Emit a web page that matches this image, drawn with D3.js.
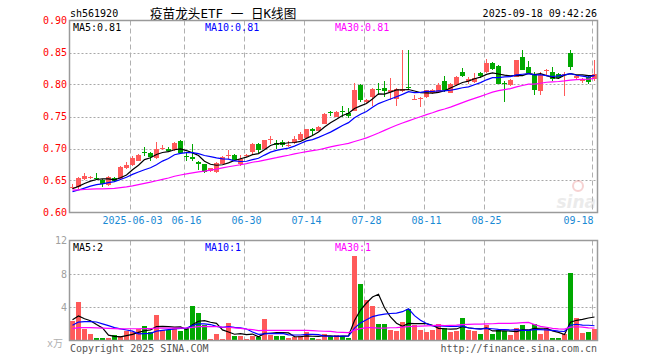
<!DOCTYPE html>
<html>
<head>
<meta charset="utf-8">
<script src="https://cdn.jsdelivr.net/npm/d3@7"></script>
<style>
  body { margin: 0; background: #fff; }
  svg { display: block; }
  text { font-family: "DejaVu Sans Mono", "Liberation Mono", monospace; font-size: 10px; }
</style>
</head>
<body>
<svg id="chart" width="660" height="360"></svg>
<script>
// trading days shown on the chart
const dates = [
  "2025-05-19","2025-05-20","2025-05-21","2025-05-22","2025-05-23",
  "2025-05-26","2025-05-27","2025-05-28","2025-05-29","2025-05-30",
  "2025-06-03","2025-06-04","2025-06-05","2025-06-06",
  "2025-06-09","2025-06-10","2025-06-11","2025-06-12","2025-06-13",
  "2025-06-16","2025-06-17","2025-06-18","2025-06-19","2025-06-20",
  "2025-06-23","2025-06-24","2025-06-25","2025-06-26","2025-06-27",
  "2025-06-30","2025-07-01","2025-07-02","2025-07-03","2025-07-04",
  "2025-07-07","2025-07-08","2025-07-09","2025-07-10","2025-07-11",
  "2025-07-14","2025-07-15","2025-07-16","2025-07-17","2025-07-18",
  "2025-07-21","2025-07-22","2025-07-23","2025-07-24","2025-07-25",
  "2025-07-28","2025-07-29","2025-07-30","2025-07-31","2025-08-01",
  "2025-08-04","2025-08-05","2025-08-06","2025-08-07","2025-08-08",
  "2025-08-11","2025-08-12","2025-08-13","2025-08-14","2025-08-15",
  "2025-08-18","2025-08-19","2025-08-20","2025-08-21","2025-08-22",
  "2025-08-25","2025-08-26","2025-08-27","2025-08-28","2025-08-29",
  "2025-09-01","2025-09-02","2025-09-03","2025-09-04","2025-09-05",
  "2025-09-08","2025-09-09","2025-09-10","2025-09-11","2025-09-12",
  "2025-09-15","2025-09-16","2025-09-17","2025-09-18"
];

const open = [
  0.639,0.640,0.652,0.654,0.654,0.651,0.643,0.654,0.653,0.670,
  0.674,0.681,0.695,0.693,0.685,0.700,0.699,0.697,0.711,0.689,
  0.686,0.679,0.676,0.665,0.663,0.676,0.689,0.690,0.675,0.689,
  0.694,0.707,0.700,0.714,0.709,0.710,0.705,0.708,0.714,0.717,
  0.731,0.728,0.739,0.757,0.750,0.758,0.756,0.759,0.799,0.773,
  0.781,0.793,0.795,0.789,0.777,0.790,0.796,0.777,0.777,0.781,
  0.787,0.788,0.805,0.787,0.799,0.820,0.805,0.804,0.818,0.820,
  0.833,0.829,0.803,0.799,0.812,0.843,0.828,0.817,0.790,0.821,
  0.820,0.816,0.815,0.850,0.810,0.806,0.811,0.809
];
const high = [
  0.644,0.655,0.662,0.657,0.661,0.652,0.657,0.655,0.672,0.679,
  0.688,0.691,0.703,0.694,0.710,0.705,0.703,0.710,0.713,0.693,
  0.707,0.680,0.676,0.670,0.679,0.689,0.697,0.692,0.690,0.692,
  0.709,0.708,0.714,0.720,0.713,0.713,0.711,0.720,0.726,0.731,
  0.732,0.735,0.755,0.759,0.758,0.766,0.764,0.802,0.800,0.777,
  0.794,0.802,0.806,0.810,0.794,0.854,0.854,0.783,0.780,0.792,
  0.793,0.802,0.814,0.802,0.813,0.826,0.812,0.818,0.819,0.840,
  0.835,0.830,0.806,0.808,0.839,0.854,0.837,0.819,0.820,0.824,
  0.827,0.818,0.819,0.854,0.815,0.810,0.813,0.838
];
const low = [
  0.636,0.637,0.650,0.652,0.651,0.640,0.641,0.648,0.650,0.668,
  0.673,0.680,0.688,0.681,0.683,0.697,0.695,0.696,0.692,0.681,
  0.681,0.666,0.662,0.664,0.662,0.675,0.684,0.681,0.673,0.687,
  0.692,0.693,0.699,0.707,0.699,0.702,0.702,0.707,0.713,0.716,
  0.719,0.727,0.738,0.751,0.749,0.750,0.748,0.758,0.773,0.771,
  0.767,0.783,0.780,0.776,0.767,0.789,0.792,0.776,0.765,0.779,
  0.785,0.787,0.789,0.786,0.798,0.812,0.801,0.802,0.810,0.818,
  0.822,0.800,0.773,0.797,0.811,0.822,0.816,0.783,0.783,0.815,
  0.806,0.808,0.782,0.823,0.808,0.803,0.801,0.806
];
const close = [
  0.640,0.654,0.657,0.655,0.652,0.644,0.655,0.649,0.671,0.674,
  0.685,0.690,0.693,0.686,0.699,0.701,0.696,0.708,0.693,0.686,
  0.683,0.675,0.664,0.669,0.678,0.687,0.690,0.682,0.683,0.690,
  0.707,0.698,0.713,0.715,0.706,0.705,0.706,0.715,0.723,0.730,
  0.727,0.734,0.754,0.756,0.757,0.757,0.751,0.792,0.776,0.775,
  0.793,0.791,0.790,0.791,0.793,0.793,0.794,0.778,0.779,0.791,
  0.791,0.799,0.791,0.801,0.812,0.813,0.809,0.810,0.813,0.834,
  0.824,0.801,0.801,0.807,0.838,0.823,0.818,0.791,0.815,0.822,
  0.809,0.810,0.817,0.827,0.813,0.808,0.804,0.817
];
// volume, 万手
const volume = [
  2.36,4.64,1.44,0.84,0.32,0.32,0.28,0.72,0.52,1.12,
  1.04,1.44,1.72,1.04,3.04,1.24,1.24,1.52,1.16,1.44,
  4.12,3.32,1.92,0.16,0.76,0.20,2.08,0.56,0.52,0.20,
  0.52,0.44,2.56,0.64,0.52,0.52,0.32,0.36,0.52,1.04,
  0.32,0.20,0.76,0.52,0.60,0.52,0.28,10.1,6.76,4.84,
  4.12,1.96,1.96,1.24,1.12,2.20,3.76,1.84,1.24,1.04,
  1.24,1.96,1.56,1.04,1.12,2.68,1.24,1.12,0.76,1.84,
  0.76,1.32,1.12,0.64,1.48,1.84,1.24,2.04,0.76,1.48,
  0.28,0.28,0.76,8.12,2.68,0.88,1.04,1.40
];

// sessions before the visible window, estimated from where the MA lines start
const priorClose = [
  0.645,0.642,0.640,0.638,0.641,0.643,0.640,0.637,0.636,0.638,
  0.635,0.632,0.630,0.633,0.634,0.631,0.629,0.632,0.636,0.634,
  0.630,0.627,0.625,0.628,0.631,0.636,0.634,0.637,0.639
];
const priorVolume = [
  1.1,1.4,0.9,1.6,1.2,1.0,1.5,1.3,0.8,1.1,
  1.4,1.2,0.9,1.7,1.3,1.0,1.4,1.2,1.1,1.5,
  0.9,0.8,1.0,0.7,2.5,2.4,3.1,2.0,2.6
];

const tickDates = ["2025-06-03","2025-06-16","2025-06-30","2025-07-14","2025-07-28","2025-08-11","2025-08-25","2025-09-18"];
const tickLabels = ["2025-06-03","06-16","06-30","07-14","07-28","08-11","08-25","09-18"];
const priceTicks = [0.90,0.85,0.80,0.75,0.70,0.65,0.60];
const volumeTicks = [12,8,4];

const maPeriods = [5, 10, 30];
const maColors = ["#000000", "#0000ff", "#ff00ff"];
const upColor = "#ff5a5a";
const downColor = "#00a800";

const svg = d3.select("#chart");
const left = 69.5, right = 597.5;

const x = d3.scaleBand()
  .domain(dates)
  .range([69.5, 597.5])
  .paddingInner(1 / 6)
  .paddingOuter(1 / 12);
const cx = d => Math.floor(x(d) + x.bandwidth() / 2) + 0.5;

const y = d3.scaleLinear().domain([0.6, 0.9]).range([212.5, 20.5]);
const yv = d3.scaleLinear().domain([0, 12]).range([340.5, 240.5]);

function movingAvg(values, prior, n) {
  const all = prior.concat(values);
  return values.map((v, i) => d3.mean(all.slice(i + prior.length - n + 1, i + prior.length + 1)));
}

// header
svg.append("text").attr("x", 70).attr("y", 17).text("sh561920");
svg.append("text").attr("x", 150).attr("y", 18)
  .style("font-family", "\"DejaVu Sans Mono\", \"Noto Sans CJK SC\", monospace")
  .style("font-size", "12.6px")
  .text("疫苗龙头ETF 一 日K线图");
svg.append("text").attr("x", 597).attr("y", 17).attr("text-anchor", "end").text("2025-09-18 09:42:26");

function drawGrid(top, bottom, yScale, values) {
  const g = svg.append("g");
  g.selectAll("line.h").data(values).join("line")
    .attr("x1", left).attr("x2", right)
    .attr("y1", d => Math.round(yScale(d)) + 0.5)
    .attr("y2", d => Math.round(yScale(d)) + 0.5)
    .attr("stroke", "#a8a8a8")
    .attr("stroke-dasharray", "2,2");
  g.selectAll("line.v").data(tickDates).join("line")
    .attr("x1", d => Math.round(x(d)) + 0.5)
    .attr("x2", d => Math.round(x(d)) + 0.5)
    .attr("y1", top).attr("y2", bottom)
    .attr("stroke", "#b0b0b0")
    .attr("stroke-dasharray", "5,3");
}

drawGrid(20.5, 212.5, y, [0.85, 0.80, 0.75, 0.70, 0.65]);
drawGrid(240.5, 340.5, yv, [8, 4]);

// sina watermark
const wm = svg.append("g").attr("opacity", 0.35);
wm.append("text").attr("x", 596).attr("y", 208).attr("text-anchor", "end")
  .style("font-family", "\"DejaVu Sans\", sans-serif")
  .style("font-size", "17px").style("font-weight", "bold").style("font-style", "italic")
  .attr("fill", "#c8c8c8").text("sina");
wm.append("circle").attr("cx", 578).attr("cy", 186).attr("r", 5)
  .attr("fill", "none").attr("stroke", "#e88080").attr("stroke-width", 2);

// y axes
const yAxis = svg.append("g").attr("transform", "translate(67,0)")
  .call(d3.axisLeft(y).tickValues(priceTicks).tickFormat(d3.format(".2f")).tickSize(0).tickPadding(0));
yAxis.select(".domain").remove();
yAxis.selectAll("text").attr("fill", "#ff0000").style("font-family", "\"DejaVu Sans Mono\", monospace").style("font-size", "10px");

const vAxis = svg.append("g").attr("transform", "translate(67,0)")
  .call(d3.axisLeft(yv).tickValues(volumeTicks).tickFormat(d3.format("d")).tickSize(0).tickPadding(0));
vAxis.select(".domain").remove();
vAxis.selectAll("text").attr("fill", "#a0a0a0").style("font-family", "\"DejaVu Sans Mono\", monospace").style("font-size", "10px");

svg.append("text").attr("x", 47).attr("y", 347).attr("fill", "#b0b0b0")
  .style("font-family", "\"DejaVu Sans Mono\", \"Noto Sans CJK SC\", monospace")
  .text("x万");

// x axis
const xAxis = svg.append("g").attr("transform", "translate(0,217)")
  .call(d3.axisBottom(x).tickValues(tickDates)
    .tickFormat(d => tickLabels[tickDates.indexOf(d)]).tickSize(0).tickPadding(0));
xAxis.select(".domain").remove();
xAxis.selectAll("text")
  .attr("fill", "#1a8ad4")
  .style("font-family", "\"DejaVu Sans Mono\", monospace").style("font-size", "10px")
  .attr("dy", "0.71em");
xAxis.selectAll(".tick").filter(d => d === "2025-09-18").select("text")
  .attr("text-anchor", "end").attr("dx", -1);

// candles
const bars = dates.map((d, i) => ({ date: d, o: open[i], h: high[i], l: low[i], c: close[i], v: volume[i] }));
const colorOf = d => (d.c >= d.o ? upColor : downColor);

const candles = svg.append("g").selectAll("g").data(bars).join("g");
candles.append("line")
  .attr("x1", d => cx(d.date)).attr("x2", d => cx(d.date))
  .attr("y1", d => Math.round(y(d.h))).attr("y2", d => Math.round(y(d.l)))
  .attr("stroke", colorOf);
candles.append("rect")
  .attr("x", d => Math.round(x(d.date)))
  .attr("width", 5)
  .attr("y", d => Math.round(y(Math.max(d.o, d.c))))
  .attr("height", d => Math.max(1, Math.round(y(Math.min(d.o, d.c))) - Math.round(y(Math.max(d.o, d.c)))))
  .attr("fill", colorOf);

// volume bars
svg.append("g").selectAll("rect").data(bars).join("rect")
  .attr("x", d => Math.round(x(d.date)))
  .attr("width", 5)
  .attr("y", d => Math.round(yv(d.v)))
  .attr("height", d => 340 - Math.round(yv(d.v)))
  .attr("fill", colorOf);

// moving averages
const priceMA = maPeriods.map(n => movingAvg(close, priorClose, n));
const volumeMA = maPeriods.map(n => movingAvg(volume, priorVolume, n));

maPeriods.forEach((n, k) => {
  svg.append("path")
    .datum(priceMA[k])
    .attr("fill", "none").attr("stroke", maColors[k]).attr("stroke-width", 1.2)
    .attr("d", d3.line().x((d, i) => cx(dates[i])).y(d => y(d)));
  svg.append("path")
    .datum(volumeMA[k])
    .attr("fill", "none").attr("stroke", maColors[k]).attr("stroke-width", 1.2)
    .attr("d", d3.line().x((d, i) => cx(dates[i])).y(d => yv(d)));
});

// frames
[[20.5, 212.5], [240.5, 340.5]].forEach(([t, b]) => {
  svg.append("rect").attr("x", left).attr("y", t)
    .attr("width", right - left).attr("height", b - t)
    .attr("fill", "none").attr("stroke", "#9a9a9a").attr("stroke-width", 1.5);
});

// MA legends
const legendX = [73, 205, 335];
maPeriods.forEach((n, k) => {
  const last = priceMA[k][priceMA[k].length - 1];
  svg.append("text").attr("x", legendX[k]).attr("y", 31).attr("fill", maColors[k])
    .text("MA" + n + ":" + d3.format(".2f")(last));
  const lastV = volumeMA[k][volumeMA[k].length - 1];
  svg.append("text").attr("x", legendX[k]).attr("y", 251).attr("fill", maColors[k])
    .text("MA" + n + ":" + Math.floor(lastV));
});

// footer
svg.append("text").attr("x", 70).attr("y", 352).attr("fill", "#555").text("Copyright 2025 SINA.COM");
svg.append("text").attr("x", 597).attr("y", 352).attr("text-anchor", "end").attr("fill", "#555").text("http://finance.sina.com.cn");
</script>
</body>
</html>
